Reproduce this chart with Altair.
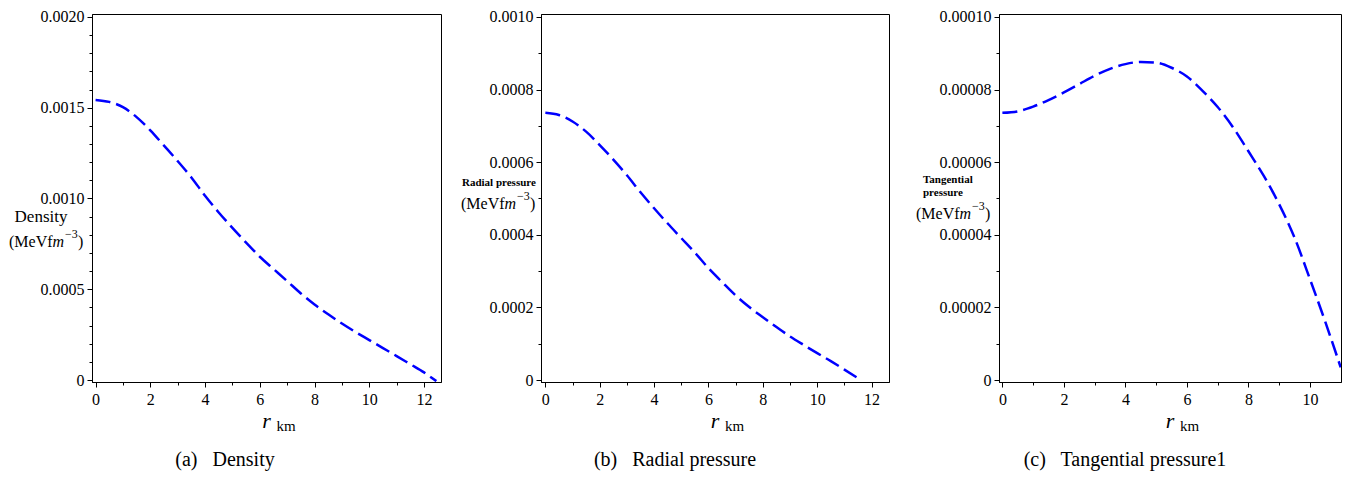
import altair as alt
import pandas as pd

# ---------------- data ----------------
r_density = [0, 0.5, 1, 1.5, 2, 2.5, 3, 3.5, 4, 4.5, 5, 5.5, 6, 6.5, 7, 7.5,
             8, 8.5, 9, 9.5, 10, 10.5, 11, 11.5, 12, 12.45]
density = [0.001543, 0.001532, 0.001503, 0.001448, 0.001375, 0.001291, 0.001206,
           0.001116, 0.001015, 0.000923, 0.000838, 0.000757, 0.000679, 0.000612,
           0.000545, 0.000477, 0.000416, 0.000362, 0.000311, 0.000264, 0.000220,
           0.000176, 0.000132, 0.000087, 0.000042, -0.000006]

r_radial = [0, 0.5, 1, 1.5, 2, 2.5, 3, 3.5, 4, 4.5, 5, 5.5, 6, 6.5, 7, 7.5,
            8, 8.5, 9, 9.5, 10, 10.5, 11, 11.6]
radial = [0.000736, 0.000730, 0.000712, 0.000684, 0.000647, 0.000607, 0.000564,
          0.000517, 0.000473, 0.000431, 0.000391, 0.000351, 0.000308, 0.000270,
          0.000233, 0.000201, 0.000173, 0.000146, 0.000120, 0.0000966, 0.0000740,
          0.0000520, 0.0000288, 0.0]

r_tang = [0, 0.5, 1, 1.5, 2, 2.5, 3, 3.5, 4, 4.5, 5, 5.5, 6, 6.5, 7, 7.5,
          8, 8.5, 9, 9.5, 10, 10.5, 11.0]
tangential = [0.0000736, 0.0000740, 0.0000753, 0.0000771, 0.0000792, 0.0000815,
              0.0000838, 0.0000857, 0.0000870, 0.0000876, 0.0000874, 0.0000860,
              0.0000836, 0.0000797, 0.0000752, 0.0000696, 0.0000630, 0.0000562,
              0.0000484, 0.0000392, 0.0000278, 0.0000160, 0.0000035]

captions = ["(a)\u2002 Density", "(b)\u2002 Radial pressure",
            "(c)\u2002 Tangential pressure1"]

x_ticks_ab = [0, 1, 2, 3, 4, 5, 6, 7, 8, 9, 10, 11, 12]
x_ticks_c = [0, 1, 2, 3, 4, 5, 6, 7, 8, 9, 10]
y_ticks_a = [round(i * 0.0001, 6) for i in range(21)]
y_ticks_b = [round(i * 0.0001, 6) for i in range(11)]
y_ticks_c = [round(i * 0.00001, 7) for i in range(11)]

FONT = "Liberation Serif"
H = 368
BLUE = "#0000ff"


def txt(t, x, y, size, italic=False, bold=False, align="left", baseline="middle"):
    return alt.Chart(pd.DataFrame({"t": [t]})).mark_text(
        font=FONT, fontSize=size, color="black",
        fontStyle="italic" if italic else "normal",
        fontWeight="bold" if bold else "normal",
        align=align, baseline=baseline,
    ).encode(x=alt.value(x), y=alt.value(y), text="t:N")


def unit_label(x0, yc):
    return [
        txt("(MeVf", x0, yc, 16),
        txt("m", x0 + 43.5, yc, 16, italic=True),
        txt("\u22123", x0 + 56, yc - 8, 12),
        txt(")", x0 + 69, yc, 16),
    ]


def panel(r, v, width, xdom, ydom, xticks, yticks, ymajor, yfmt, ytitles, caption, cap_x):
    df = pd.DataFrame({"r": r, "v": v})
    ytest = f"abs(datum.value/{ymajor} - round(datum.value/{ymajor})) < 0.001"
    xaxis = alt.Axis(
        values=xticks, title=None, grid=False,
        labelExpr="datum.value % 2 == 0 ? format(datum.value, 'd') : ''",
        tickSize={"condition": {"test": "datum.value % 2 == 0", "value": 5}, "value": 3},
        labelPadding=4, labelFont=FONT, labelFontSize=16, labelColor="black",
    )
    yaxis = alt.Axis(
        values=yticks, title=None, grid=False,
        labelExpr=f"{ytest} ? (abs(datum.value) < 1e-12 ? '0' : format(datum.value, '{yfmt}')) : ''",
        tickSize={"condition": {"test": ytest, "value": 5}, "value": 3},
        labelPadding=3, labelFont=FONT, labelFontSize=16, labelColor="black",
    )
    line = alt.Chart(df).mark_line(
        color=BLUE, strokeWidth=2.5, strokeDash=[15, 6], interpolate="monotone", clip=True
    ).encode(
        x=alt.X("r:Q", scale=alt.Scale(domain=xdom, nice=False, zero=False), axis=xaxis),
        y=alt.Y("v:Q", scale=alt.Scale(domain=ydom, nice=False, zero=False), axis=yaxis),
    )
    layers = [line]
    layers += ytitles
    layers.append(txt("r", width / 2, H + 46, 22, italic=True, align="center", baseline="alphabetic"))
    layers.append(txt("km", width / 2 + 10, H + 49, 15, baseline="alphabetic"))
    layers.append(txt(caption, cap_x, H + 84, 20, align="center", baseline="alphabetic"))
    return alt.layer(*layers).properties(width=width, height=H)


def spacer(w):
    return alt.Chart(pd.DataFrame({"s": [0]})).mark_point(opacity=0).encode(
        x=alt.X("s:Q", axis=None), y=alt.Y("s:Q", axis=None)
    ).properties(width=w, height=H, view={"stroke": "transparent"})


pa = panel(r_density, density, 349, [-0.13, 12.62], [-0.0000108, 0.002016],
           x_ticks_ab, y_ticks_a, 0.0005, ".4f",
           [txt("Density", -51, 203, 17, align="center")] + unit_label(-83, 228),
           captions[0], 133)
pb = panel(r_radial, radial, 348, [-0.16, 12.64], [-0.0000054, 0.001008],
           x_ticks_ab, y_ticks_b, 0.0002, ".4f",
           [txt("Radial pressure", -79, 169, 11, bold=True)] + unit_label(-80, 190),
           captions[1], 134)
pc = panel(r_tang, tangential, 342, [-0.11, 11.01], [-0.00000054, 0.0001008],
           x_ticks_c, y_ticks_c, 0.00002, ".5f",
           [txt("Tangential", -76, 166, 11, bold=True),
            txt("pressure", -76, 179, 11, bold=True)] + unit_label(-83, 200),
           captions[2], 126)

chart = alt.hconcat(pa, spacer(100), pb, spacer(110), pc, spacing=0, bounds="flush").properties(
    padding=0
).configure_view(stroke="black", strokeWidth=1).configure_axis(
    domainColor="black", tickColor="black", labelColor="black",
    labelFont=FONT, labelFontSize=16, tickWidth=1, domainWidth=1,
)

chart.save("out.html", embed_options={"renderer": "svg", "actions": False})
